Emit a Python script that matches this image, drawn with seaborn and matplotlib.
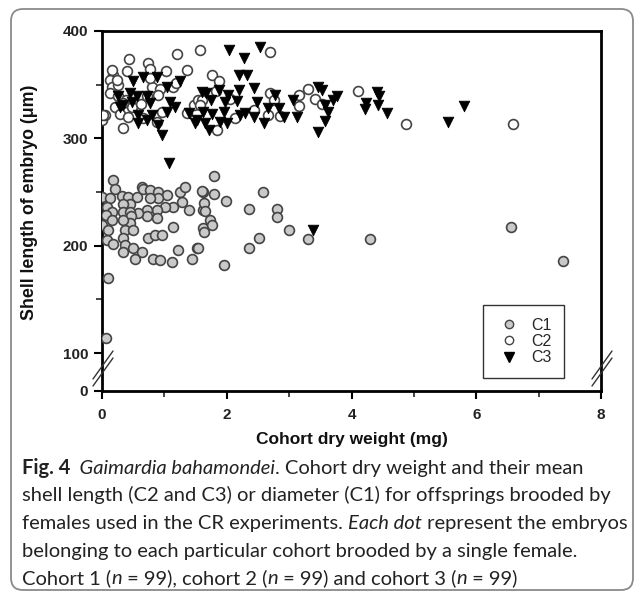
import numpy as np
import pandas as pd
import matplotlib
matplotlib.use("Agg")
import matplotlib.pyplot as plt
import seaborn as sns
from matplotlib.patches import FancyBboxPatch
from matplotlib.lines import Line2D

# ---------------- data ----------------
c1_x = [0.06, 0.10, 0.18, 0.21, 0.00, 0.13, 0.32, 0.42, 0.56, 0.64, 0.66, 0.77, 0.90, 1.04,
        0.90, 0.77, 1.25, 1.33, 1.28, 1.39, 1.14, 1.01, 0.88, 0.88, 0.72, 0.72, 0.58, 0.45,
        0.34, 0.08, 0.16, 0.06, 0.16, 0.34, 0.45, 0.47, 0.45, 0.34, 0.00, 0.10, 0.37, 0.50,
        0.08, 0.18, 0.34, 0.37, 0.34, 0.50, 0.64, 0.53, 0.82, 0.93, 1.12, 0.74, 0.85, 0.96,
        1.14, 1.22, 1.44, 1.52, 1.62, 1.62, 1.62, 1.79, 1.61, 1.79, 1.99, 1.63, 1.65, 1.73,
        1.76, 1.64, 1.54, 1.96, 2.36, 2.58, 2.80, 2.80, 2.51, 2.35, 3.00, 3.30, 4.29, 6.56,
        7.39]
c1_y = [114, 169.5, 261, 253, 245.6, 244, 246, 245.6, 245.6, 255, 253, 252, 250, 247,
        244, 244, 250, 255, 241, 233, 236, 236, 233, 225.5, 233, 228, 230, 239,
        239, 236, 231.6, 229, 224, 231, 231, 228, 221, 224, 219, 214.5, 214.5, 214.5,
        205, 202, 207, 200.5, 194.5, 197.5, 194.5, 188, 188, 187, 185, 207, 210, 210,
        217.6, 196, 188, 197.5, 250, 233, 216, 265, 251, 248, 241.6, 240, 232.5, 224,
        219, 213, 197.5, 182, 234.5, 250, 234, 227, 207, 197.5, 214.5, 206, 206.5, 217,
        185.6]

c2_x = [0.00, 0.05, 0.33, 0.43, 0.74, 0.77, 0.40, 1.02, 1.21, 1.36, 1.57, 0.18, 0.13, 0.16,
        0.26, 0.13, 0.26, 0.39, 0.21, 0.29, 0.42, 0.48, 0.62, 0.72, 0.80, 0.77, 0.93, 0.90,
        1.14, 1.19, 0.96, 0.66, 1.36, 1.47, 1.54, 0.88, 2.70, 1.76, 1.88, 1.83, 1.61, 1.57,
        2.05, 2.43, 2.70, 2.75, 2.86, 2.13, 1.84, 2.66, 3.16, 3.31, 3.42, 3.16, 3.52, 4.10,
        4.88, 6.59, 0.16, 0.24, 0.34, 0.02]
c2_y = [317, 322, 310, 374, 370, 365, 363, 363, 379, 364, 382, 359, 354, 348,
        350, 342, 339, 335.5, 329.5, 323, 320, 329.5, 332, 339, 348, 356, 346, 340,
        348, 352, 325, 319, 324, 331, 336, 315.5, 380, 359, 353, 344, 336, 331,
        337, 326, 342, 336, 321, 319, 308, 322, 340, 346, 337, 330, 332, 344,
        313, 313, 364, 354, 333, 322]

c3_x = [0.66, 0.88, 1.25, 0.50, 0.26, 0.45, 0.56, 0.72, 0.48, 0.34, 0.77, 1.04, 1.09, 1.17,
        1.04, 0.29, 0.58, 0.80, 0.72, 0.58, 0.90, 0.96, 1.39, 1.49, 1.66, 1.08,
        2.03, 2.27, 2.54, 2.19, 2.33, 1.60, 1.87, 2.02, 2.19, 2.43, 1.75, 1.97, 2.16, 2.48,
        2.77, 3.06, 1.62, 1.76, 1.96, 2.21, 2.29, 2.43, 2.66, 2.83, 2.92, 1.65, 1.89, 2.00,
        1.71, 2.59, 1.52, 3.47, 3.53, 3.77, 3.71, 3.58, 3.63, 3.58, 3.47, 3.12, 4.41, 4.44,
        4.43, 4.23, 4.22, 4.57, 5.54, 5.80, 3.39]
c3_y = [357, 357, 353, 353, 339, 342, 339, 339, 334, 331, 333, 348, 334, 329.5,
        325, 329.5, 322, 322, 317, 314.5, 312, 303, 324, 314, 342, 277,
        382, 375, 385, 359, 359, 343.5, 345, 340, 345, 346.5, 336, 333.5, 335, 333.5,
        340, 336, 325, 323, 325, 322, 324, 320, 328, 328, 320, 314, 315.5, 314,
        308, 314, 317, 348, 345, 339, 336, 331, 325, 316, 306, 320, 343.5, 339,
        331, 333, 327, 324, 315, 330, 215]

series_labels = ["C1", "C2", "C3"]
x_label = "Cohort dry weight (mg)"
y_label = "Shell length of embryo (\u03bcm)"
y_tick_values = [100, 200, 300, 400]
x_tick_values = [0, 2, 4, 6, 8]

# ---------------- figure ----------------
sns.set_style("ticks")
plt.rcParams["font.family"] = ["Liberation Sans", "DejaVu Sans"]

W, H, DPI = 635, 594, 100
fig = plt.figure(figsize=(W / DPI, H / DPI), dpi=DPI)
fig.patch.set_facecolor("white")

ax_l, ax_r, ax_t, ax_b = 102, 601, 31, 391
ax = fig.add_axes([ax_l / W, 1 - ax_b / H, (ax_r - ax_l) / W, (ax_b - ax_t) / H])

y_zero = 64.6  # position where the broken axis shows "0"

df = pd.concat([
    pd.DataFrame({"x": c1_x, "y": c1_y, "cohort": "C1"}),
    pd.DataFrame({"x": c2_x, "y": c2_y, "cohort": "C2"}),
    pd.DataFrame({"x": c3_x, "y": c3_y, "cohort": "C3"}),
])

styles = {
    "C1": dict(marker="o", s=50, color="#c9c9c9", edgecolor="#444444", linewidth=1.2),
    "C2": dict(marker="o", s=50, color="white", edgecolor="#444444", linewidth=1.2),
    "C3": dict(marker="v", s=58, color="black", edgecolor="black", linewidth=0.6),
}
for lab in ["C2", "C1", "C3"]:
    sub = df[df["cohort"] == lab]
    sns.scatterplot(data=sub, x="x", y="y", ax=ax, label=lab, zorder=3, **styles[lab])

ax.set_xlim(0, 8)
ax.set_ylim(y_zero, 400)
ax.set_xticks(x_tick_values)
ax.set_xticklabels([str(v) for v in x_tick_values])
ax.set_xticks([1, 3, 5, 7], minor=True)
ax.set_yticks([y_zero] + y_tick_values)
ax.set_yticklabels(["0"] + [str(v) for v in y_tick_values])
ax.set_yticks([150, 250, 350], minor=True)

for sp in ax.spines.values():
    sp.set_linewidth(2.0)
    sp.set_color("black")
    sp.set_visible(True)

ax.tick_params(axis="both", which="major", direction="out", length=6, width=1.5,
               labelsize=11, pad=4, colors="black")
ax.tick_params(axis="both", which="minor", direction="out", length=4, width=1.2)
for t in ax.get_xticklabels() + ax.get_yticklabels():
    t.set_fontweight("bold")
    t.set_color("#222222")
ax.tick_params(axis="x", pad=6)

ax.set_xlabel(x_label, fontsize=12.5, fontweight="bold", color="#111111")
ax.set_ylabel(y_label, fontsize=12.8, fontweight="bold", color="#111111")
ax.xaxis.set_label_coords(0.5, -0.115)
ax.yaxis.set_label_coords(-0.128, 0.525)

# legend
handles = [
    Line2D([], [], linestyle="none", marker="o", markersize=6, markerfacecolor="#c9c9c9",
           markeredgecolor="#444444", markeredgewidth=1.0),
    Line2D([], [], linestyle="none", marker="o", markersize=6, markerfacecolor="white",
           markeredgecolor="#444444", markeredgewidth=1.0),
    Line2D([], [], linestyle="none", marker="v", markersize=7, markerfacecolor="black",
           markeredgecolor="black"),
]
leg = ax.legend(handles, series_labels, loc="upper left",
                bbox_to_anchor=((483 - ax_l) / (ax_r - ax_l), (ax_b - 305) / (ax_b - ax_t)),
                frameon=True, fancybox=False, edgecolor="black", fontsize=11.5,
                handletextpad=0.6, labelspacing=0.08, borderpad=0.8, handlelength=1.6,
                borderaxespad=0)
leg.get_frame().set_linewidth(1.0)

# axis break marks
def brk(x_px, y_px):
    for dy in (0, 7):
        fig.add_artist(Line2D([x_px - 10, x_px + 10], [H - (y_px + 14 + dy), H - (y_px - 14 + dy)],
                              transform=None, color="#333333", lw=1.0))
brk(ax_l + 1, 365)
brk(ax_r + 1, 365)

# rounded frame
frame = FancyBboxPatch((11, 4), 622, 581, boxstyle="round,pad=0,rounding_size=12",
                       transform=None, fill=False, edgecolor="#8a8a8a", linewidth=1.3)
fig.patches.append(frame)

# ---------------- caption ----------------
cap_font = ["Lato", "DejaVu Sans"]
cap_size = 14.5
renderer = fig.canvas.get_renderer()

def draw_line(pieces, x0, y_px):
    x = x0
    for txt, style, weight in pieces:
        fig.text(x / W, 1 - y_px / H, txt, fontsize=cap_size, family=cap_font,
                 style=style, fontweight=weight, color="#222222", va="baseline", ha="left")
        probe = fig.text(0, 0, txt + "|", fontsize=cap_size, family=cap_font,
                         style=style, fontweight=weight)
        bar = fig.text(0, 0, "|", fontsize=cap_size, family=cap_font,
                       style=style, fontweight=weight)
        adv = probe.get_window_extent(renderer).width - bar.get_window_extent(renderer).width
        probe.remove(); bar.remove()
        x += adv

N, I, B = "normal", "italic", "bold"
x0 = 22
lines = [
    [("Fig. 4", N, B), ("  Gaimardia bahamondei", I, N), (". Cohort dry weight and their mean", N, N)],
    [("shell length (C2 and C3) or diameter (C1) for offsprings brooded by", N, N)],
    [("females used in the CR experiments. ", N, N), ("Each dot", I, N), (" represent the embryos", N, N)],
    [("belonging to each particular cohort brooded by a single female.", N, N)],
    [("Cohort 1 (", N, N), ("n", I, N), (" = 99), cohort 2 (", N, N), ("n", I, N),
     (" = 99) and cohort 3 (", N, N), ("n", I, N), (" = 99)", N, N)],
]
y_base = [476, 503.5, 531, 558.5, 586]
for pcs, yb in zip(lines, y_base):
    draw_line(pcs, x0, yb - 2)

fig.savefig("out.png", dpi=DPI)
